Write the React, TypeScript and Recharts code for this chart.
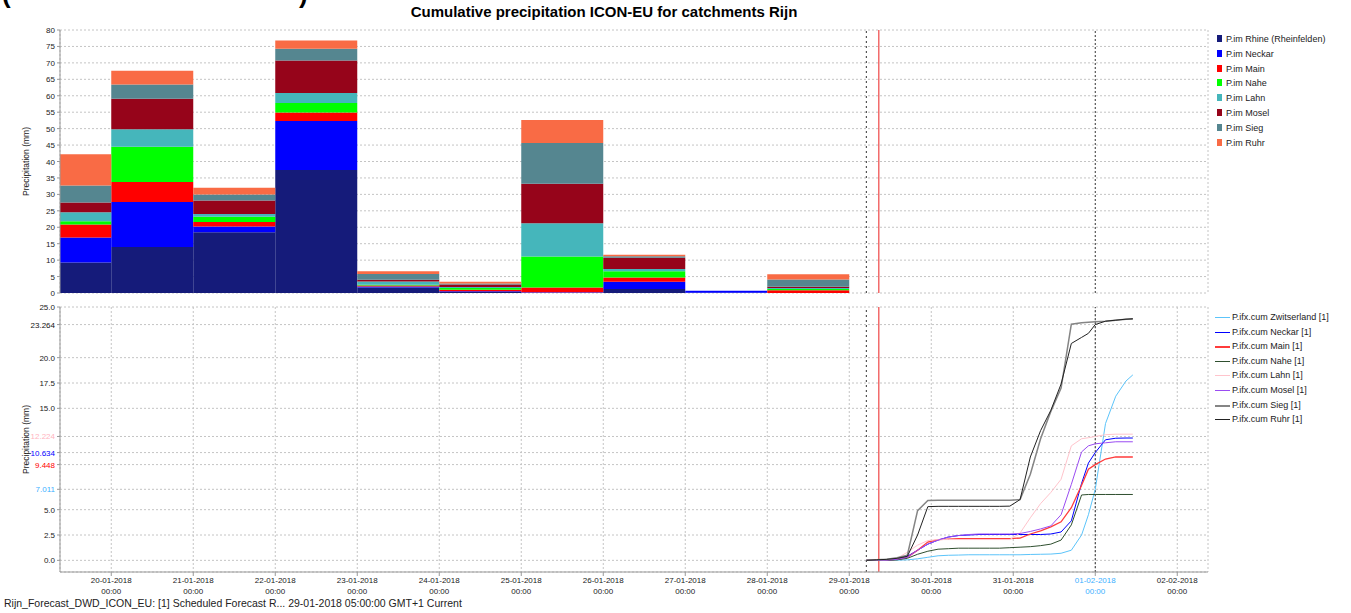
import {
  Bar,
  BarChart,
  CartesianGrid,
  Legend,
  Line,
  LineChart,
  ReferenceLine,
  XAxis,
  YAxis,
} from "recharts";

// x positions are days after 20-01-2018 00:00
const dayTicks = [0, 1, 2, 3, 4, 5, 6, 7, 8, 9, 10, 11, 12, 13];
const dayLabels = [
  "20-01-2018", "21-01-2018", "22-01-2018", "23-01-2018", "24-01-2018",
  "25-01-2018", "26-01-2018", "27-01-2018", "28-01-2018", "29-01-2018",
  "30-01-2018", "31-01-2018", "01-02-2018", "02-02-2018",
];
const xDomain = [-0.625, 13.375];
const forecastStart = 9 + 5 / 24;
const systemTime = 9.36;
const selectedDay = 12;

// daily observed precipitation (bar centre = middle of the day)
const barDays = [-0.5, 0.5, 1.5, 2.5, 3.5, 4.5, 5.5, 6.5, 7.5, 8.5];
const rhine = [9.3, 14.0, 18.5, 37.4, 1.7, 0.3, 0.1, 1.2, 0.1, 0];
const neckar = [7.6, 13.7, 1.7, 14.9, 0.3, 0.2, 0.1, 2.2, 0.6, 0];
const mainRiver = [3.9, 6.1, 1.4, 2.6, 0.3, 0.5, 1.5, 1.3, 0, 0.8];
const nahe = [1.0, 10.7, 1.6, 2.9, 0.2, 0.5, 9.4, 1.9, 0, 0.4];
const lahn = [2.8, 5.3, 0.8, 3.0, 1.0, 0.3, 10.1, 0.7, 0, 0.3];
const mosel = [2.9, 9.3, 4.1, 9.9, 0.5, 0.8, 12.0, 3.4, 0, 0.4];
const sieg = [5.2, 4.3, 1.9, 3.6, 1.8, 0.3, 12.4, 0.5, 0, 2.2];
const ruhr = [9.5, 4.2, 2.0, 2.5, 0.8, 0.5, 7.0, 0.4, 0, 1.6];

// forecast, hours after 29-01-2018 00:00
const forecastHours = [5, 8, 11, 14, 17, 20, 23, 26, 29, 32, 35, 38, 41, 44, 47, 50, 53, 56, 59, 62, 65, 68, 70, 72, 75, 78, 81, 83];
const cumZwitserland = [0, 0, 0, 0.02, 0.05, 0.15, 0.3, 0.45, 0.5, 0.52, 0.55, 0.55, 0.55, 0.55, 0.55, 0.55, 0.58, 0.6, 0.62, 0.7, 1.0, 2.5, 4.5, 7.011, 13.5, 16.2, 17.7, 18.3];
const cumNeckar = [0, 0, 0.05, 0.1, 0.4, 1.0, 1.6, 2.0, 2.3, 2.45, 2.5, 2.55, 2.55, 2.55, 2.55, 2.55, 2.55, 2.55, 2.6, 2.8, 3.9, 7.6, 9.6, 10.634, 11.9, 12.05, 12.07, 12.07];
const cumMain = [0, 0, 0.02, 0.1, 0.3, 1.0, 1.8, 2.05, 2.1, 2.15, 2.15, 2.15, 2.15, 2.15, 2.15, 2.2, 2.6, 2.9, 3.3, 3.8, 5.2, 7.4, 9.0, 9.448, 10.0, 10.2, 10.2, 10.2];
const cumNahe = [0, 0, 0, 0.05, 0.2, 0.6, 0.9, 1.1, 1.15, 1.2, 1.2, 1.2, 1.2, 1.2, 1.25, 1.3, 1.35, 1.45, 1.6, 2.0, 3.5, 6.45, 6.5, 6.5, 6.5, 6.5, 6.5, 6.5];
const cumLahn = [0, 0, 0.05, 0.2, 0.8, 1.5, 1.95, 2.05, 2.05, 2.05, 2.05, 2.05, 2.05, 2.05, 2.05, 2.7, 4.2, 5.6, 6.7, 8.0, 11.3, 12.0, 12.1, 12.224, 12.4, 12.45, 12.45, 12.45];
const cumMosel = [0, 0, 0.02, 0.1, 0.3, 1.0, 1.6, 2.0, 2.3, 2.45, 2.55, 2.6, 2.6, 2.6, 2.6, 2.65, 2.85, 3.1, 3.4, 4.5, 7.5, 10.7, 11.3, 11.5, 11.6, 11.7, 11.7, 11.7];
const cumSieg = [0, 0.05, 0.1, 0.25, 0.5, 4.9, 5.9, 5.92, 5.92, 5.92, 5.92, 5.92, 5.92, 5.92, 5.92, 6.0, 8.5, 12.0, 14.7, 17.0, 23.3, 23.45, 23.5, 23.55, 23.6, 23.7, 23.8, 23.8];
const cumRuhr = [0, 0.05, 0.1, 0.2, 0.4, 2.5, 5.3, 5.33, 5.33, 5.33, 5.33, 5.33, 5.33, 5.33, 5.35, 6.0, 10.2, 12.8, 14.8, 17.4, 21.4, 22.0, 22.4, 23.264, 23.6, 23.7, 23.8, 23.85];

const barTicks = [0, 5, 10, 15, 20, 25, 30, 35, 40, 45, 50, 55, 60, 65, 70, 75, 80];
const cumTicks = [0, 2.5, 5, 7.011, 9.448, 10.634, 12.224, 15, 17.5, 20, 23.264, 25];

const barData = barDays.map((day, i) => ({
  day,
  rhine: rhine[i],
  neckar: neckar[i],
  main: mainRiver[i],
  nahe: nahe[i],
  lahn: lahn[i],
  mosel: mosel[i],
  sieg: sieg[i],
  ruhr: ruhr[i],
}));

const lineData = forecastHours.map((h, i) => ({
  day: 9 + h / 24,
  zwitserland: cumZwitserland[i],
  neckar: cumNeckar[i],
  main: cumMain[i],
  nahe: cumNahe[i],
  lahn: cumLahn[i],
  mosel: cumMosel[i],
  sieg: cumSieg[i],
  ruhr: cumRuhr[i],
}));

const FONT = "'Liberation Sans', Arial, sans-serif";
const TEXT = "#222";
const AXIS = "#999";
const GRID = "#c4c4c4";

const cumTickColors: Record<string, string> = {
  "7.011": "#3cb0ff",
  "9.448": "#ff0000",
  "10.634": "#0000ff",
  "12.224": "#ffb4c0",
  "23.264": "#111",
};

// keep legend rows in series order
const barOrder = ["rhine", "neckar", "main", "nahe", "lahn", "mosel", "sieg", "ruhr"];
const lineOrder = ["zwitserland", "neckar", "main", "nahe", "lahn", "mosel", "sieg", "ruhr"];

function AxisTitle(props: any) {
  const { viewBox } = props;
  const cx = viewBox.x + 16;
  const cy = viewBox.y + viewBox.height / 2;
  return (
    <text
      x={cx}
      y={cy}
      transform={`rotate(-90, ${cx}, ${cy})`}
      textAnchor="middle"
      dominantBaseline="central"
      fontSize={8.5}
      fontFamily={FONT}
      fill={TEXT}
    >
      Precipitation (mm)
    </text>
  );
}

function CumTick(props: any) {
  const { x, y, payload } = props;
  const v: number = payload.value;
  const special = Math.abs(v * 2 - Math.round(v * 2)) > 1e-9;
  const label = special ? v.toFixed(3) : v.toFixed(1);
  const fill = special ? cumTickColors[label] ?? TEXT : TEXT;
  return (
    <text x={x} y={y} dy={3} textAnchor="end" fontSize={8} fontFamily={FONT} fill={fill}>
      {label}
    </text>
  );
}

function BarTick(props: any) {
  const { x, y, payload } = props;
  return (
    <text x={x} y={y} dy={3} textAnchor="end" fontSize={8} fontFamily={FONT} fill={TEXT}>
      {payload.value}
    </text>
  );
}

function DateTick(props: any) {
  const { x, y, payload } = props;
  const fill = payload.value === selectedDay ? "#3cb0ff" : TEXT;
  return (
    <text x={x} y={y} textAnchor="middle" fontSize={8} fontFamily={FONT} fill={fill}>
      <tspan x={x} dy={5}>{dayLabels[payload.value]}</tspan>
      <tspan x={x} dy={11}>00:00</tspan>
    </text>
  );
}

function ordered(payload: any[], order: string[]) {
  return [...payload].sort((a, b) => order.indexOf(a.dataKey) - order.indexOf(b.dataKey));
}

function BarLegend(props: any) {
  const { payload = [] } = props;
  return (
    <div style={{ position: "relative", height: 120, fontFamily: FONT, fontSize: 9, color: TEXT }}>
      {ordered(payload, barOrder).map((p: any, i: number) => (
        <div
          key={p.value}
          style={{ position: "absolute", left: 0, top: Math.round(i * 14.8), height: 15, display: "flex", alignItems: "center", whiteSpace: "nowrap" }}
        >
          <span style={{ display: "inline-block", width: 5, height: 7, background: p.color, marginLeft: 9, marginRight: 4 }} />
          <span>{p.value}</span>
        </div>
      ))}
    </div>
  );
}

function LineLegend(props: any) {
  const { payload = [] } = props;
  return (
    <div style={{ position: "relative", height: 120, fontFamily: FONT, fontSize: 9, color: TEXT }}>
      {ordered(payload, lineOrder).map((p: any, i: number) => {
        const thick = p.payload?.strokeWidth > 1;
        return (
          <div
            key={p.value}
            style={{ position: "absolute", left: 0, top: Math.round(i * 14.6), height: 15, whiteSpace: "nowrap" }}
          >
            <span
              style={{
                position: "absolute",
                left: 7,
                top: 7,
                width: 15,
                height: thick ? 2 : 1,
                background: p.color,
              }}
            />
            <span style={{ position: "absolute", left: 24, top: 0, lineHeight: "15px" }}>{p.value}</span>
          </div>
        );
      })}
    </div>
  );
}

function markers() {
  return [
    <ReferenceLine key="fs" x={forecastStart} stroke="#333" strokeDasharray="2 3" />,
    <ReferenceLine key="sel" x={selectedDay} stroke="#333" strokeDasharray="2 2" />,
    <ReferenceLine key="now" x={systemTime} stroke="#f26a6a" strokeWidth={1.5} />,
  ];
}

function frameAxes() {
  return [
    <XAxis key="fx" xAxisId="frame" orientation="top" type="number" domain={[0, 1]} height={0} tick={false} tickLine={false} axisLine={{ stroke: AXIS }} />,
    <YAxis key="fy" yAxisId="frame" orientation="right" type="number" domain={[0, 1]} width={0} tick={false} tickLine={false} axisLine={{ stroke: AXIS }} />,
  ];
}

export default function App() {
  return (
    <div style={{ position: "absolute", left: 0, top: 0, width: 1351, height: 613, background: "#fff", overflow: "hidden" }}>
      <div style={{ position: "absolute", left: 2, top: -19, fontFamily: FONT, fontWeight: "bold", fontSize: 26, lineHeight: "26px" }}>(</div>
      <div style={{ position: "absolute", left: 299, top: -19, fontFamily: FONT, fontWeight: "bold", fontSize: 26, lineHeight: "26px" }}>)</div>
      <div
        style={{
          position: "absolute",
          left: 0,
          top: 3,
          width: 1208,
          textAlign: "center",
          fontFamily: FONT,
          fontWeight: "bold",
          fontSize: 15,
          color: "#000",
        }}
      >
        Cumulative precipitation ICON-EU for catchments Rijn
      </div>

      <div style={{ position: "absolute", left: 0, top: 0 }}>
        <BarChart
          width={1351}
          height={300}
          data={barData}
          margin={{ top: 30, right: 5, bottom: 7, left: 10 }}
          barCategoryGap={0}
          barGap={0}
        >
          <CartesianGrid stroke={GRID} strokeDasharray="2 2" />
          <XAxis
            dataKey="day"
            type="number"
            domain={xDomain}
            ticks={dayTicks}
            allowDataOverflow
            height={0}
            tick={false}
            tickLine={false}
            axisLine={{ stroke: AXIS }}
          />
          <YAxis
            type="number"
            domain={[0, 80]}
            ticks={barTicks}
            interval={0}
            width={50}
            tick={<BarTick />}
            tickSize={3}
            tickMargin={2}
            tickLine={{ stroke: AXIS }}
            axisLine={{ stroke: AXIS }}
            label={<AxisTitle />}
          />
          {frameAxes()}
          <Legend layout="vertical" align="right" verticalAlign="top" width={138} wrapperStyle={{ top: 31 }} itemSorter={null as any} content={<BarLegend />} />
          {markers()}
          <Bar dataKey="rhine" name="P.im Rhine (Rheinfelden)" stackId="p" fill="#151b7a" isAnimationActive={false} />
          <Bar dataKey="neckar" name="P.im Neckar" stackId="p" fill="#0000ff" isAnimationActive={false} />
          <Bar dataKey="main" name="P.im Main" stackId="p" fill="#ff0000" isAnimationActive={false} />
          <Bar dataKey="nahe" name="P.im Nahe" stackId="p" fill="#00ff00" isAnimationActive={false} />
          <Bar dataKey="lahn" name="P.im Lahn" stackId="p" fill="#45b6bb" isAnimationActive={false} />
          <Bar dataKey="mosel" name="P.im Mosel" stackId="p" fill="#96041a" isAnimationActive={false} />
          <Bar dataKey="sieg" name="P.im Sieg" stackId="p" fill="#558690" isAnimationActive={false} />
          <Bar dataKey="ruhr" name="P.im Ruhr" stackId="p" fill="#f96b45" isAnimationActive={false} />
        </BarChart>
      </div>

      <div style={{ position: "absolute", left: 0, top: 300 }}>
        <LineChart width={1351} height={300} data={lineData} margin={{ top: 7, right: 5, bottom: 0, left: 10 }}>
          <CartesianGrid stroke={GRID} strokeDasharray="2 2" />
          <XAxis
            dataKey="day"
            type="number"
            domain={xDomain}
            ticks={dayTicks}
            interval={0}
            allowDataOverflow
            height={28}
            tick={<DateTick />}
            tickSize={4}
            tickMargin={2}
            tickLine={{ stroke: AXIS }}
            axisLine={{ stroke: AXIS }}
          />
          <YAxis
            type="number"
            domain={[-1.15, 25]}
            ticks={cumTicks}
            interval={0}
            allowDataOverflow
            width={50}
            tick={<CumTick />}
            tickSize={3}
            tickMargin={2}
            tickLine={{ stroke: AXIS }}
            axisLine={{ stroke: AXIS }}
            label={<AxisTitle />}
          />
          {frameAxes()}
          <Legend layout="vertical" align="right" verticalAlign="top" width={138} wrapperStyle={{ top: 10 }} itemSorter={null as any} content={<LineLegend />} />
          {markers()}
          <Line type="linear" dataKey="zwitserland" name="P.ifx.cum Zwitserland [1]" stroke="#5cc4fa" strokeWidth={1} dot={false} isAnimationActive={false} />
          <Line type="linear" dataKey="neckar" name="P.ifx.cum Neckar [1]" stroke="#0000ff" strokeWidth={1} dot={false} isAnimationActive={false} />
          <Line type="linear" dataKey="main" name="P.ifx.cum Main [1]" stroke="#ff3b3b" strokeWidth={1.3} dot={false} isAnimationActive={false} />
          <Line type="linear" dataKey="nahe" name="P.ifx.cum Nahe [1]" stroke="#2f4f2f" strokeWidth={1} dot={false} isAnimationActive={false} />
          <Line type="linear" dataKey="lahn" name="P.ifx.cum Lahn [1]" stroke="#ffc4cc" strokeWidth={1} dot={false} isAnimationActive={false} />
          <Line type="linear" dataKey="mosel" name="P.ifx.cum Mosel [1]" stroke="#9a4cf2" strokeWidth={1} dot={false} isAnimationActive={false} />
          <Line type="linear" dataKey="sieg" name="P.ifx.cum Sieg [1]" stroke="#858585" strokeWidth={1.5} dot={false} isAnimationActive={false} />
          <Line type="linear" dataKey="ruhr" name="P.ifx.cum Ruhr [1]" stroke="#222" strokeWidth={1} dot={false} isAnimationActive={false} />
        </LineChart>
      </div>

      <div style={{ position: "absolute", left: 4, top: 597, fontFamily: FONT, fontSize: 10.5, color: TEXT, whiteSpace: "nowrap" }}>
        Rijn_Forecast_DWD_ICON_EU: [1] Scheduled Forecast R... 29-01-2018 05:00:00 GMT+1 Current
      </div>
    </div>
  );
}
